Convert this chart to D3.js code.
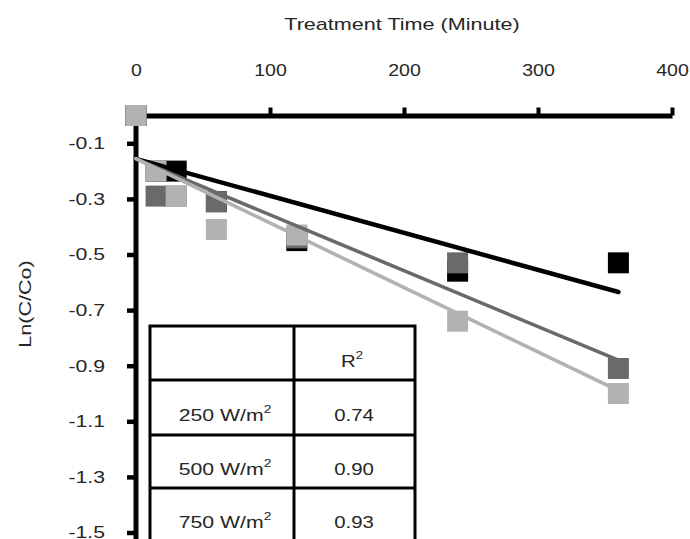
<!DOCTYPE html>
<html><head><meta charset="utf-8">
<script src="https://cdn.jsdelivr.net/npm/d3@7"></script>
<style>
body{margin:0;background:#fff;}
text{font-family:"Liberation Sans",Arial,sans-serif;fill:#262626;}
</style>
</head><body><svg id="c" width="690" height="539"></svg>
<script>
// ---- data ----
const times = [0, 15, 30, 60, 120, 240, 360];
const s250 = [0, -0.20, -0.20, -0.31, -0.45, -0.56, -0.53];
const s500 = [0, -0.29, -0.29, -0.31, -0.44, -0.53, -0.91];
const s750 = [0, -0.20, -0.29, -0.41, -0.43, -0.74, -1.00];
const trendTimes = [0, 360];
const trend250 = [-0.156, -0.635];
const trend500 = [-0.156, -0.880];
const trend750 = [-0.155, -0.990];
const tableLabels = ["250 W/m", "500 W/m", "750 W/m"];
const rSquared = ["0.74", "0.90", "0.93"];
const xTicks = [0, 100, 200, 300, 400];
const yTicks = [-0.1, -0.3, -0.5, -0.7, -0.9, -1.1, -1.3, -1.5];
const xTitle = "Treatment Time (Minute)";
const yTitle = "Ln(C/Co)";
const colors = ["#000000", "#6a6a6a", "#b2b2b2"];

const svg = d3.select("#c");
const x = d3.scaleLinear([0, 400], [136, 672]);
const y = d3.scaleLinear([0, -1.5], [115.5, 532.5]);
const FS = 17;

function stretch(sel, k) {
  sel.each(function () {
    const ax = +(this.getAttribute("x") || 0);
    const prev = this.getAttribute("transform") || "";
    this.setAttribute("transform", prev + ` translate(${ax},0) scale(${k},1) translate(${-ax},0)`);
  });
}

// X axis (top)
const gx = svg.append("g").attr("transform", `translate(0,${y(0)})`)
  .call(d3.axisTop(x).tickValues(xTicks).tickSize(8).tickSizeOuter(0).tickPadding(32));
gx.select(".domain").attr("stroke", "#000").attr("stroke-width", 5);
gx.selectAll(".tick line").attr("stroke", "#000").attr("stroke-width", 4);
gx.selectAll(".tick text").attr("font-size", FS).attr("fill", "#262626")
  .attr("font-family", '"Liberation Sans",Arial,sans-serif');
stretch(gx.selectAll(".tick text"), 1.15);

// Y axis (left)
const gy = svg.append("g").attr("transform", `translate(${x(0)},0)`)
  .call(d3.axisLeft(y).tickValues(yTicks).tickSize(9).tickPadding(22).tickFormat(d => d.toFixed(1)));
gy.select(".domain").remove();
gy.selectAll(".tick line").attr("stroke", "#000").attr("stroke-width", 4.5);
gy.selectAll(".tick text").attr("font-size", FS).attr("fill", "#262626")
  .attr("font-family", '"Liberation Sans",Arial,sans-serif');
stretch(gy.selectAll(".tick text"), 1.25);
gy.append("line").attr("x1", 0).attr("x2", 0).attr("y1", y(0) - 2).attr("y2", y(-1.6))
  .attr("stroke", "#000").attr("stroke-width", 5);

// Titles
const tt = svg.append("text").attr("x", 402).attr("y", 30).attr("text-anchor", "middle")
  .attr("font-size", FS).text(xTitle);
stretch(tt, 1.27);
svg.append("text").attr("text-anchor", "middle").attr("font-size", FS)
  .attr("transform", "translate(31,304) rotate(-90) scale(1.27,1)").text(yTitle);

// Points
const series = [s250, s500, s750];
const SQ = 21;
series.forEach((vals, i) => {
  svg.append("g").selectAll("rect").data(times.map((t, j) => ({ t, v: vals[j] })))
    .join("rect")
    .attr("x", d => x(d.t) - SQ / 2).attr("y", d => y(d.v) - SQ / 2)
    .attr("width", SQ).attr("height", SQ).attr("fill", colors[i]);
});

// Trend lines
const trends = [trend250, trend500, trend750];
const widths = [4.5, 3.6, 3.6];
const line = d3.line().x(d => x(d.t)).y(d => y(d.v));
trends.forEach((tv, i) => {
  svg.append("path").datum(trendTimes.map((t, j) => ({ t, v: tv[j] })))
    .attr("d", line).attr("fill", "none").attr("stroke", colors[i])
    .attr("stroke-width", widths[i]).attr("stroke-linecap", "round");
});

// Table
const tb = svg.append("g");
const tLeft = 150, tRight = 415, tMid = 294, tTop = 326;
const rowLines = [380, 435, 488];
tb.append("rect").attr("x", tLeft).attr("y", tTop).attr("width", tRight - tLeft).attr("height", 260)
  .attr("fill", "#fff").attr("stroke", "#000").attr("stroke-width", 3);
tb.selectAll("line.r").data(rowLines).join("line").attr("class", "r")
  .attr("x1", tLeft).attr("x2", tRight).attr("y1", d => d).attr("y2", d => d)
  .attr("stroke", "#000").attr("stroke-width", 3);
tb.append("line").attr("x1", tMid).attr("x2", tMid).attr("y1", tTop).attr("y2", 560)
  .attr("stroke", "#000").attr("stroke-width", 3);

function supText(g, cx, by, main, sup, k) {
  const t = g.append("text").attr("text-anchor", "middle").attr("font-size", FS)
    .attr("transform", `translate(${cx},${by}) scale(${k},1)`);
  t.append("tspan").text(main);
  t.append("tspan").attr("font-size", 11).attr("dy", -8).text(sup);
  return t;
}
supText(tb, 352, 367, "R", "2", 1.2);
const baselines = [421, 475, 528];
tableLabels.forEach((lab, i) => {
  supText(tb, 225, baselines[i], lab, "2", 1.25);
  tb.append("text").attr("text-anchor", "middle").attr("font-size", FS)
    .attr("transform", `translate(354,${baselines[i]}) scale(1.2,1)`).text(rSquared[i]);
});
</script></body></html>
